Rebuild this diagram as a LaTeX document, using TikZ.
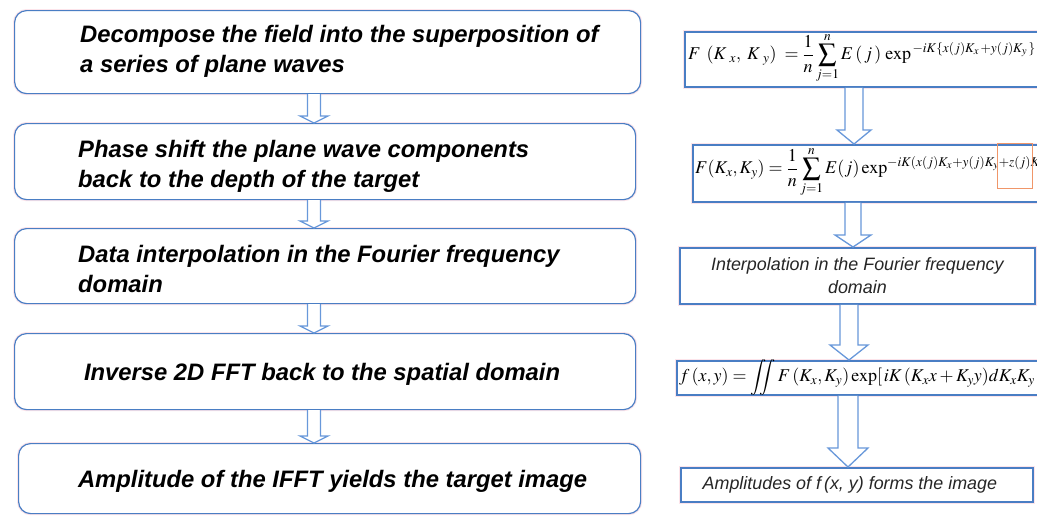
\documentclass[tikz,border=0pt]{standalone}
\usepackage{amsmath}
\usepackage{mathptmx}
\usepackage[no-math]{fontspec}
\setsansfont{Liberation Sans}
\usetikzlibrary{calc}
\definecolor{boxblue}{RGB}{74,126,196}
\definecolor{arrblue}{RGB}{104,152,218}
\definecolor{halo}{RGB}{252,228,234}
\definecolor{hiorange}{RGB}{240,150,105}
\newcommand\harrow[6]{%
  \draw[arrowst] let \p1=(#1.south), \p2=(#2.north) in
    ({(#3-#4)*1pt},\y1) -- ({(#3-#4)*1pt},{\y2+#6pt}) -- ({(#3-#5)*1pt},{\y2+#6pt})
    -- ({#3*1pt},\y2) -- ({(#3+#5)*1pt},{\y2+#6pt}) -- ({(#3+#4)*1pt},{\y2+#6pt})
    -- ({(#3+#4)*1pt},\y1);}
\tikzset{
  lbox/.style={draw=boxblue, line width=1.2pt, rounded corners=12pt, fill=white,
    anchor=north west, inner sep=0pt,
    preaction={draw=halo, line width=3.2pt}},
  rbox/.style={draw=boxblue, line width=1.8pt, fill=white, anchor=north west, inner sep=0pt,
    preaction={draw=halo, line width=3.8pt}},
  ltext/.style={font=\sffamily\bfseries\itshape\fontsize{23.8}{30}\selectfont, align=left, inner sep=0pt, text=black},
  rtext/.style={font=\sffamily\itshape\fontsize{17.9}{23}\selectfont, align=center, inner sep=0pt, text=black!85},
  ftext/.style={font=\fontsize{18}{21}\selectfont, inner sep=0pt, anchor=west},
  arrowst/.style={draw=arrblue, line width=1.3pt, fill=white, line join=miter},
}
\begin{document}
\begin{tikzpicture}[x=1pt,y=-1pt]
\useasboundingbox (0,0) rectangle (1037,515);
\fill[white] (0,0) rectangle (1037,515);
% left column
\node[lbox, minimum width=626pt, minimum height=83pt] (b1) at (14,10) {};
\node[lbox, minimum width=621pt, minimum height=76pt] (b2) at (14,123) {};
\node[lbox, minimum width=621pt, minimum height=75pt] (b3) at (14,228) {};
\node[lbox, minimum width=621pt, minimum height=76pt] (b4) at (14,333) {};
\node[lbox, minimum width=622pt, minimum height=70pt] (b5) at (18,443) {};
\node[ltext, anchor=west] (t1) at ($(b1.west)+(66,-1)$) {Decompose the field into the superposition of\\a series of plane waves};
\node[ltext, anchor=west] (t2) at ($(b2.west)+(64,5)$) {Phase shift the plane wave components\\back to the depth of the target};
\node[ltext, anchor=west] (t3) at ($(b3.west)+(64,3)$) {Data interpolation in the Fourier frequency\\domain};
\node[ltext] (t4) at ($(b4.center)+(-3,3)$) {Inverse 2D FFT back to the spatial domain};
\node[ltext] (t5) at ($(b5.center)+(3,3)$) {Amplitude of the IFFT yields the target image};
\harrow{b1}{b2}{314}{6.5}{14}{7}
\harrow{b2}{b3}{314}{6.5}{14}{7}
\harrow{b3}{b4}{314}{6.5}{14}{7}
\harrow{b4}{b5}{314}{6.5}{14}{7}
% right column
\node[rbox, minimum width=370pt, minimum height=55pt] (r1) at (684,31) {};
\node[rbox, minimum width=360pt, minimum height=57pt] (r2) at (692,144) {};
\node[rbox, minimum width=355pt, minimum height=56pt] (r3) at (679,247) {};
\node[rbox, minimum width=375pt, minimum height=34pt] (r4) at (676,360) {};
\node[rbox, minimum width=352pt, minimum height=34pt] (r5) at (680,467) {};
\node[ftext] (f1) at (688,58) {$F\;\,(K_{\;\,x},\;K_{\;\,y})\;=\dfrac{1}{n}\displaystyle\sum_{j=1}^{n}E\,(\,j\,)\,\exp^{\,-iK\{x(j)K_{x}\,+y(j)K_{y}\,\}}$};
\node[ftext] (f2) at (695,172) {$F(K_x,K_y)=\dfrac{1}{n}\displaystyle\sum_{j=1}^{n}E(j)\exp^{-iK(x(j)K_x+y(j)K_y+z(j)K_z)}$};
\node[draw=hiorange, line width=1.4pt, minimum width=35pt, minimum height=45pt, anchor=north west, inner sep=0pt] (hl) at (997,143) {};
\node[rtext] (t6) at (r3.center) {Interpolation in the Fourier frequency\\domain};
\node[ftext] (f4) at (679,377) {$f\,(x,y)=\displaystyle\iint F\,(K_x,K_y)\exp[\,iK\,(K_x x+K_y y)dK_xK_y$};
\node[rtext] (t7) at ($(r5.center)+(-7,0)$) {Amplitudes of f\,(x, y) forms the image};
\harrow{r1}{r2}{854}{9}{17}{14}
\harrow{r2}{r3}{853}{8}{18}{12}
\harrow{r3}{r4}{849}{9}{19}{15}
\harrow{r4}{r5}{848}{10}{20}{19}
\end{tikzpicture}
\end{document}
